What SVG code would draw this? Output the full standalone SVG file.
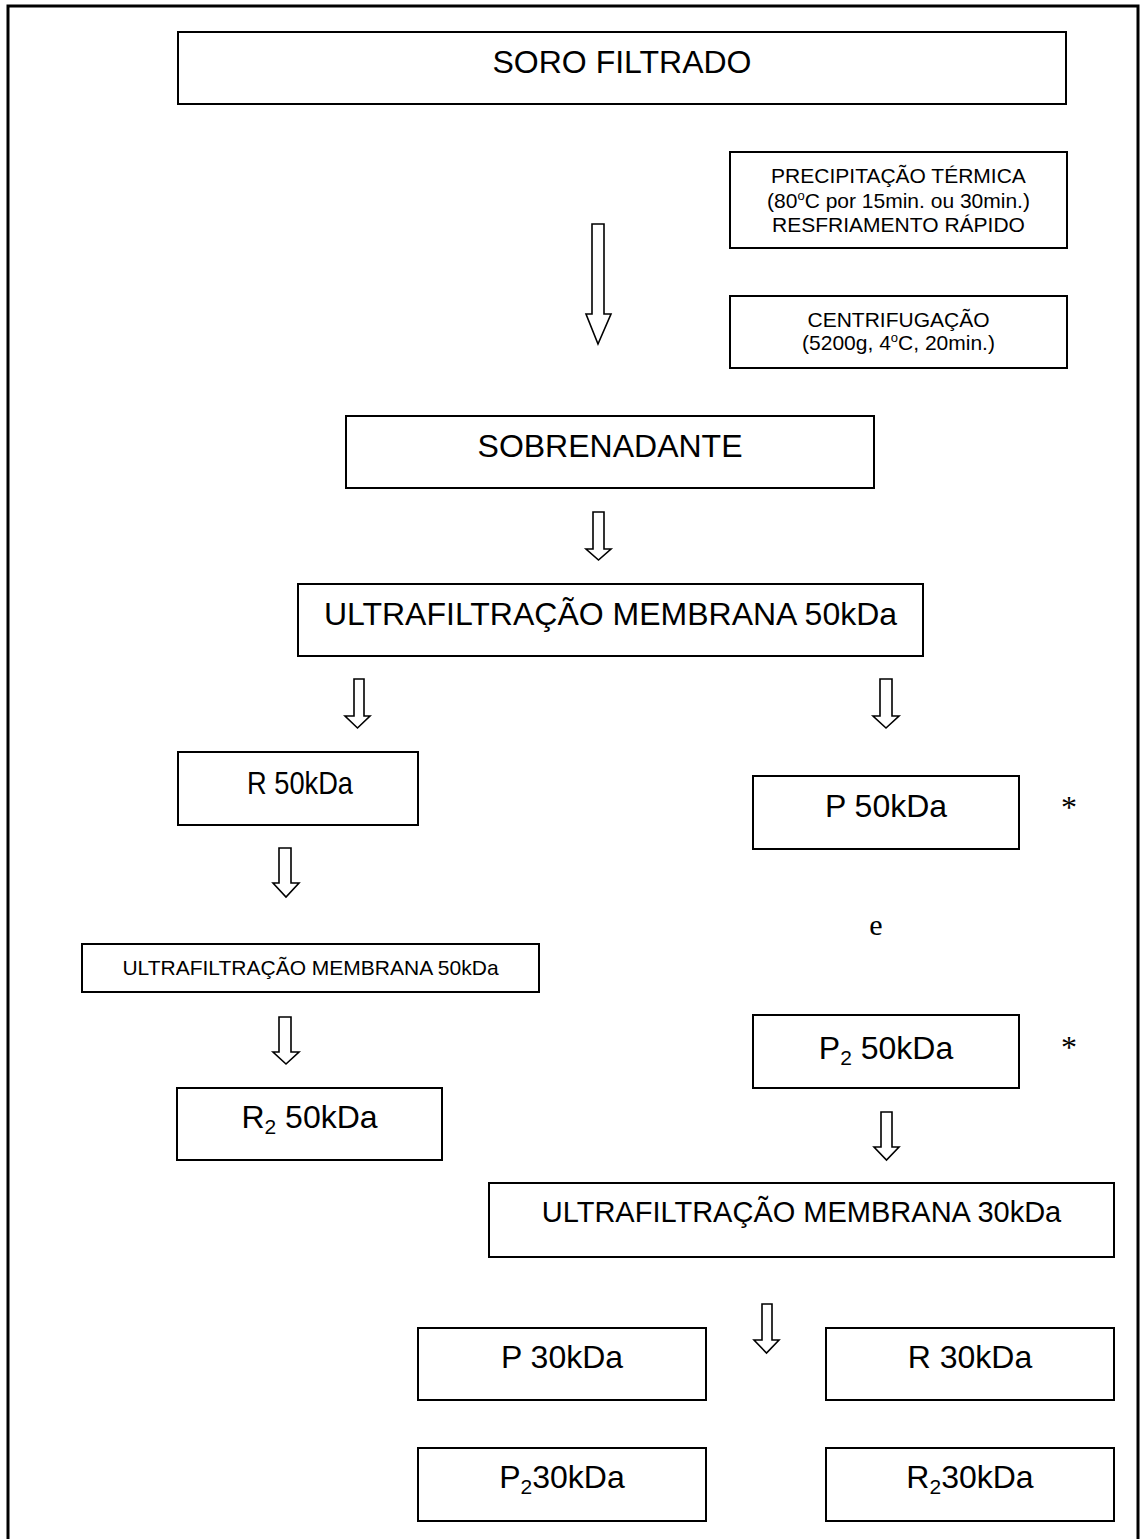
<svg xmlns="http://www.w3.org/2000/svg" width="1141" height="1539" viewBox="0 0 1141 1539">
<style>
.box{fill:#fff;stroke:#000;stroke-width:2}
.arr{fill:#fff;stroke:#000;stroke-width:1.6;stroke-linejoin:miter}
.t{font-family:"Liberation Sans",Arial,sans-serif;fill:#000;text-anchor:middle}
.big{font-size:32px}
.sm{font-size:21px}
.ser{font-family:"Liberation Serif","Times New Roman",serif;fill:#000;text-anchor:middle}
</style>
<rect x="0" y="0" width="1141" height="1539" fill="#fff"/>
<rect x="8" y="6" width="1130" height="1600" fill="none" stroke="#000" stroke-width="3"/>

<g id="connectors">
<path class="arr" d="M592,224 L604,224 L604,314 L611,314 L598,344 L586,314 L592,314 Z"/>
<path class="arr" d="M593,512 L604,512 L604,549 L611,549 L598.5,560 L586,549 L593,549 Z"/>
<path class="arr" d="M354,679 L364,679 L364,716 L370,716 L357.5,728 L345,716 L354,716 Z"/>
<path class="arr" d="M880,679 L892,679 L892,716 L899,716 L886,728 L873,716 L880,716 Z"/>
<path class="arr" d="M279,848 L291,848 L291,883 L299,883 L286,897 L273,883 L279,883 Z"/>
<path class="arr" d="M279,1017 L291,1017 L291,1052 L299,1052 L286,1064 L273,1052 L279,1052 Z"/>
<path class="arr" d="M881,1112 L892,1112 L892,1147 L899,1147 L886.5,1160 L874,1147 L881,1147 Z"/>
<path class="arr" d="M762,1304 L772,1304 L772,1340 L779,1340 L766.5,1353 L754,1340 L762,1340 Z"/>
</g>

<g id="soro">
<rect class="box" x="178" y="32" width="888" height="72"/>
<text class="t big" x="622" y="73">SORO FILTRADO</text>
</g>
<g id="precipitacao">
<rect class="box" x="730" y="152" width="337" height="96"/>
<text class="t sm" x="898.5" y="183">PRECIPITAÇÃO TÉRMICA</text>
<text class="t sm" x="898.5" y="208">(80<tspan font-size="13" dy="-8">o</tspan><tspan dy="8">C por 15min. ou 30min.)</tspan></text>
<text class="t sm" x="898.5" y="232">RESFRIAMENTO RÁPIDO</text>
</g>
<g id="centrifugacao">
<rect class="box" x="730" y="296" width="337" height="72"/>
<text class="t sm" x="898.5" y="327">CENTRIFUGAÇÃO</text>
<text class="t sm" x="898.5" y="350">(5200g, 4<tspan font-size="13" dy="-8">o</tspan><tspan dy="8">C, 20min.)</tspan></text>
</g>
<g id="sobrenadante">
<rect class="box" x="346" y="416" width="528" height="72"/>
<text class="t big" x="610" y="457">SOBRENADANTE</text>
</g>
<g id="uf50">
<rect class="box" x="298" y="584" width="625" height="72"/>
<text class="t big" x="610.5" y="625">ULTRAFILTRAÇÃO MEMBRANA 50kDa</text>
</g>
<g id="r50">
<rect class="box" x="178" y="752" width="240" height="73"/>
<text class="t big" x="300" y="794" textLength="106" lengthAdjust="spacingAndGlyphs">R 50kDa</text>
</g>
<g id="p50">
<rect class="box" x="753" y="776" width="266" height="73"/>
<text class="t big" x="886" y="817">P 50kDa</text>
<text class="ser" x="1069" y="818" font-size="32">*</text>
</g>
<g id="e">
<text class="ser" x="876" y="935" font-size="30">e</text>
</g>
<g id="uf50b">
<rect class="box" x="82" y="944" width="457" height="48"/>
<text class="t sm" x="310.5" y="975">ULTRAFILTRAÇÃO MEMBRANA 50kDa</text>
</g>
<g id="p2-50">
<rect class="box" x="753" y="1015" width="266" height="73"/>
<text class="t big" x="886" y="1059">P<tspan font-size="21" dy="6">2</tspan><tspan dy="-6"> 50kDa</tspan></text>
<text class="ser" x="1069" y="1058" font-size="32">*</text>
</g>
<g id="r2-50">
<rect class="box" x="177" y="1088" width="265" height="72"/>
<text class="t big" x="309.5" y="1128">R<tspan font-size="21" dy="6">2</tspan><tspan dy="-6"> 50kDa</tspan></text>
</g>
<g id="uf30">
<rect class="box" x="489" y="1183" width="625" height="74"/>
<text class="t" x="801.5" y="1222" font-size="29">ULTRAFILTRAÇÃO MEMBRANA 30kDa</text>
</g>
<g id="p30">
<rect class="box" x="418" y="1328" width="288" height="72"/>
<text class="t big" x="562" y="1368">P 30kDa</text>
</g>
<g id="r30">
<rect class="box" x="826" y="1328" width="288" height="72"/>
<text class="t big" x="970" y="1368">R 30kDa</text>
</g>
<g id="p2-30">
<rect class="box" x="418" y="1448" width="288" height="73"/>
<text class="t big" x="562" y="1488">P<tspan font-size="21" dy="6">2</tspan><tspan dy="-6">30kDa</tspan></text>
</g>
<g id="r2-30">
<rect class="box" x="826" y="1448" width="288" height="73"/>
<text class="t big" x="970" y="1488">R<tspan font-size="21" dy="6">2</tspan><tspan dy="-6">30kDa</tspan></text>
</g>
</svg>
